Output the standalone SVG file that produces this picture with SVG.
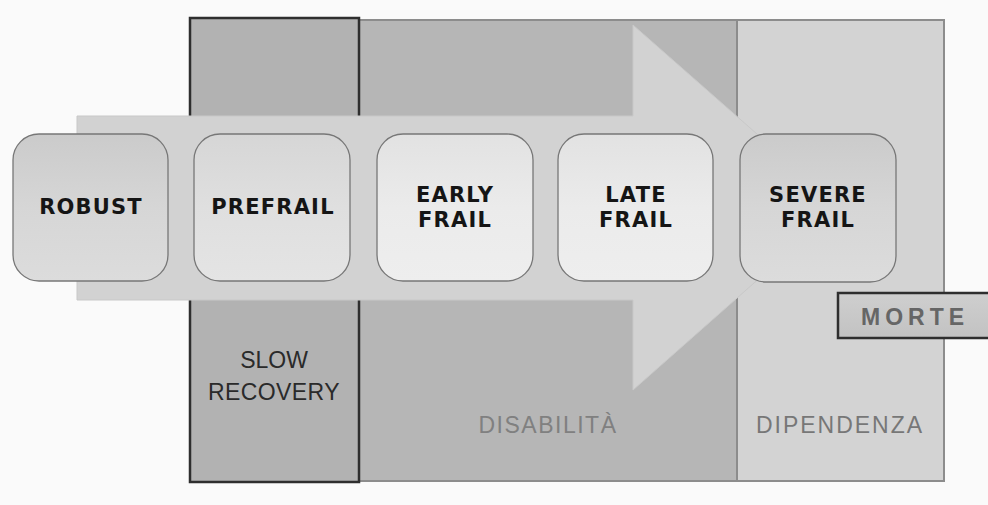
<svg xmlns="http://www.w3.org/2000/svg" width="988" height="505" viewBox="0 0 988 505">
  <defs>
    <linearGradient id="gDark" x1="0" y1="0" x2="0" y2="1">
      <stop offset="0" stop-color="#cbcbcb"/>
      <stop offset="0.5" stop-color="#d6d6d6"/>
      <stop offset="1" stop-color="#dcdcdc"/>
    </linearGradient>
    <linearGradient id="gMid" x1="0" y1="0" x2="0" y2="1">
      <stop offset="0" stop-color="#d6d6d6"/>
      <stop offset="0.5" stop-color="#dfdfdf"/>
      <stop offset="1" stop-color="#e4e4e4"/>
    </linearGradient>
    <linearGradient id="gLight" x1="0" y1="0" x2="0" y2="1">
      <stop offset="0" stop-color="#e2e2e2"/>
      <stop offset="0.5" stop-color="#ebebeb"/>
      <stop offset="1" stop-color="#eeeeee"/>
    </linearGradient>
    <linearGradient id="gMorte" x1="0" y1="0" x2="0" y2="1">
      <stop offset="0" stop-color="#cfcfcf"/>
      <stop offset="1" stop-color="#c2c2c2"/>
    </linearGradient>
  </defs>
  <style>
    .stage { stroke: #777; stroke-width: 1.3; }
    .lbl { font-family: "DejaVu Sans", "Liberation Sans", sans-serif; font-weight: bold; font-size: 21px; letter-spacing: 1.2px; fill: #151515; text-anchor: middle; }
    .zone { font-family: "Liberation Sans", "DejaVu Sans", sans-serif; font-size: 23px; text-anchor: middle; }
  </style>

  <!-- page -->
  <rect x="0" y="0" width="988" height="505" fill="#fafafa"/>

  <!-- background zones -->
  <g id="zone-dipendenza">
    <rect x="737" y="20" width="207" height="461" fill="#d3d3d3" stroke="#8c8c8c" stroke-width="2"/>
    <text class="zone" x="840" y="433" fill="#777" letter-spacing="2">DIPENDENZA</text>
  </g>
  <g id="zone-disabilita">
    <rect x="359" y="20" width="378" height="461" fill="#b6b6b6" stroke="#8c8c8c" stroke-width="2"/>
  </g>
  <g id="zone-slow-recovery">
    <rect x="190" y="18" width="169" height="464" fill="#b2b2b2" stroke="#2e2e2e" stroke-width="2.5"/>
    <text class="zone" x="274" y="368" fill="#2a2a2a">SLOW</text>
    <text class="zone" x="274" y="400" fill="#2a2a2a" letter-spacing="0.4">RECOVERY</text>
  </g>

  <!-- progression arrow -->
  <g id="connectors">
    <polygon points="77,116 633,116 633,25 840,207 633,390 633,300 77,300" fill="#d2d2d2" stroke="#c8c8c8" stroke-width="1"/>
  </g>

  <text class="zone" x="548" y="433" fill="#808080" letter-spacing="1.5">DISABILITÀ</text>

  <!-- stages -->
  <g id="robust">
    <rect class="stage" x="13" y="134" width="155" height="147" rx="26" fill="url(#gDark)"/>
    <text class="lbl" x="91" y="214">ROBUST</text>
  </g>
  <g id="prefrail">
    <rect class="stage" x="194" y="134" width="156" height="147" rx="26" fill="url(#gMid)"/>
    <text class="lbl" x="273" y="214">PREFRAIL</text>
  </g>
  <g id="early-frail">
    <rect class="stage" x="377" y="134" width="156" height="147" rx="26" fill="url(#gLight)"/>
    <text class="lbl" x="455" y="202">EARLY</text>
    <text class="lbl" x="455" y="227">FRAIL</text>
  </g>
  <g id="late-frail">
    <rect class="stage" x="558" y="134" width="155" height="147" rx="26" fill="url(#gLight)"/>
    <text class="lbl" x="636" y="202">LATE</text>
    <text class="lbl" x="636" y="227">FRAIL</text>
  </g>
  <g id="severe-frail">
    <rect class="stage" x="740" y="134" width="156" height="148" rx="26" fill="url(#gDark)"/>
    <text class="lbl" x="818" y="202">SEVERE</text>
    <text class="lbl" x="818" y="227">FRAIL</text>
  </g>

  <!-- outcome -->
  <g id="morte">
    <rect x="838" y="293" width="160" height="45" fill="url(#gMorte)" stroke="#2e2e2e" stroke-width="2.5"/>
    <text x="915" y="325" font-family="Liberation Sans, DejaVu Sans, sans-serif" font-weight="bold" font-size="23" letter-spacing="5" fill="#666" text-anchor="middle">MORTE</text>
  </g>
</svg>
